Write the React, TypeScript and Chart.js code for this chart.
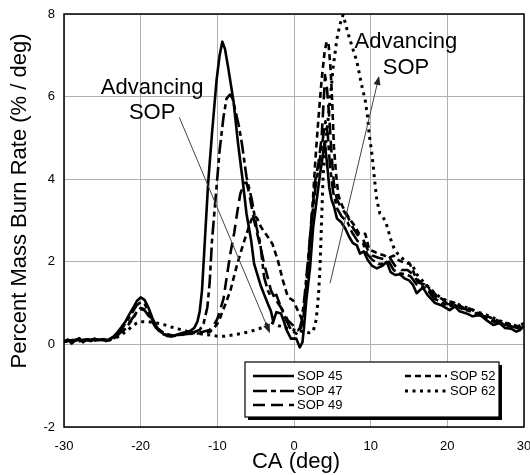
import React, { useEffect, useRef } from "react";
import { Chart, registerables } from "chart.js";

Chart.register(...registerables);

const FONT = "'Liberation Sans', Arial, Helvetica, sans-serif";

// ---- data (CA in deg, burn rate in % / deg) ----
const seriesNames = ["SOP 45", "SOP 47", "SOP 49", "SOP 52", "SOP 62"];

const sop45: [number, number][] = [
  [-30, 0.05], [-29.5, 0.12], [-29, 0.02], [-28.5, 0.1], [-28, 0.15], [-27.5, 0.05], [-27, 0.12], [-26.5, 0.08],
  [-26, 0.14], [-25.5, 0.1], [-25, 0.12], [-24.5, 0.08], [-24, 0.12], [-23.5, 0.2], [-23, 0.3], [-22.5, 0.42],
  [-22, 0.55], [-21.5, 0.72], [-21, 0.88], [-20.5, 1.05], [-20, 1.14], [-19.5, 1.08], [-19, 0.9], [-18.5, 0.65],
  [-18, 0.45], [-17.5, 0.32], [-17, 0.25], [-16.5, 0.2], [-16, 0.2], [-15.5, 0.22], [-15, 0.25], [-14.5, 0.28],
  [-14, 0.3], [-13.5, 0.33], [-13, 0.4], [-12.6, 0.55], [-12.3, 0.8], [-12, 1.3], [-11.6, 2.6], [-11.2, 3.9],
  [-10.7, 5.1], [-10.1, 6.4], [-9.7, 7.0], [-9.35, 7.33], [-9, 7.15], [-8.6, 6.72], [-7.9, 5.9], [-7.3, 4.87],
  [-6.7, 3.98], [-6.2, 3.17], [-5.6, 2.53], [-5.2, 1.95], [-4.3, 1.4], [-3.4, 0.98], [-3, 0.8], [-2.7, 0.55],
  [-2.3, 0.78], [-1.7, 0.75], [-1.3, 0.55], [-1, 0.36], [-0.4, 0.14], [0.3, 0.14], [0.75, -0.07], [1.1, 0.05],
  [1.3, 0.4], [1.6, 1.06], [2.1, 1.87], [2.5, 2.84], [2.95, 3.48], [3.4, 4.13], [3.7, 4.5], [4.0, 4.9],
  [4.3, 4.4], [4.6, 3.8], [4.9, 3.5], [5.2, 3.35], [5.6, 3.05], [6.2, 2.95], [6.7, 2.8], [7.2, 2.6],
  [7.7, 2.45], [8.2, 2.4], [8.6, 2.2], [9.1, 2.25], [9.6, 2.05], [10.2, 1.9], [10.8, 1.84], [11.5, 1.9],
  [12.1, 2.0], [12.6, 1.75], [13.2, 1.68], [13.8, 1.7], [14.4, 1.6], [15, 1.55], [15.5, 1.45], [16, 1.24],
  [16.8, 1.38], [17.4, 1.2], [18.4, 1.0], [19.2, 0.95], [20.3, 0.83], [21, 0.92], [21.6, 0.8], [22.5, 0.75],
  [23.3, 0.68], [24.3, 0.71], [25, 0.6], [26, 0.47], [26.8, 0.52], [27.5, 0.4], [28.3, 0.38], [29, 0.31],
  [29.5, 0.35], [30, 0.45],
];

const sop47: [number, number][] = [
  [-30, 0.08], [-29, 0.1], [-28, 0.12], [-27, 0.1], [-26, 0.13], [-25, 0.1], [-24, 0.12], [-23.5, 0.2],
  [-23, 0.28], [-22.5, 0.38], [-22, 0.5], [-21.5, 0.65], [-21, 0.8], [-20.5, 0.95], [-20, 1.02], [-19.5, 0.98],
  [-19, 0.82], [-18.5, 0.6], [-18, 0.42], [-17.5, 0.3], [-17, 0.24], [-16, 0.2], [-15, 0.23], [-14, 0.27],
  [-13, 0.3], [-12.3, 0.35], [-11.8, 0.5], [-11.3, 0.9], [-11, 1.5], [-10.7, 2.5], [-10.2, 3.6], [-9.7, 4.7],
  [-9.2, 5.5], [-8.8, 5.95], [-8.35, 6.05], [-8, 5.95], [-7.7, 5.7], [-7.2, 5.3], [-6.8, 4.87], [-6.2, 4.06],
  [-5.5, 3.5], [-4.9, 2.85], [-4.4, 2.45], [-3.9, 1.63], [-3.4, 1.3], [-3, 1.15], [-2.3, 1.2], [-1.7, 0.9],
  [-1, 0.58], [-0.35, 0.34], [0.3, 0.26], [0.7, 0.35], [1, 0.58], [1.4, 1.2], [1.8, 2.0], [2.3, 3.0],
  [2.8, 3.8], [3.3, 4.4], [3.7, 4.9], [4.1, 5.4], [4.4, 5.1], [4.7, 4.3], [5.1, 3.7], [5.6, 3.3],
  [6.2, 3.1], [7, 2.95], [7.6, 2.7], [8.3, 2.5], [9, 2.45], [9.5, 2.2], [10.2, 2.05], [11, 1.95],
  [11.8, 1.95], [12.4, 2.0], [13, 1.8], [13.8, 1.72], [14.5, 1.7], [15.2, 1.65], [16, 1.45], [16.8, 1.4],
  [17.5, 1.3], [18.3, 1.1], [19, 1.05], [20, 0.92], [21, 0.95], [22, 0.85], [23, 0.8], [24, 0.72],
  [25, 0.65], [26, 0.55], [27, 0.5], [28, 0.45], [29, 0.38], [30, 0.45],
];

const sop49: [number, number][] = [
  [-30, 0.06], [-29, 0.1], [-28, 0.08], [-27, 0.12], [-26, 0.1], [-25, 0.12], [-24, 0.1], [-23, 0.22],
  [-22, 0.4], [-21, 0.65], [-20.5, 0.78], [-20, 0.85], [-19.5, 0.83], [-19, 0.7], [-18.5, 0.55], [-18, 0.4],
  [-17, 0.25], [-16, 0.2], [-15, 0.22], [-14, 0.25], [-13, 0.28], [-12, 0.3], [-11, 0.35], [-10.5, 0.45],
  [-10, 0.62], [-9.6, 0.85], [-9.2, 1.1], [-8.8, 1.6], [-8.3, 2.2], [-7.8, 2.7], [-7.4, 3.2], [-7, 3.65],
  [-6.5, 3.9], [-6.2, 3.92], [-5.9, 3.7], [-5.6, 3.4], [-5.2, 3.0], [-4.8, 2.68], [-4.3, 2.3], [-3.9, 1.95],
  [-3.4, 1.6], [-3, 1.3], [-2.3, 1.06], [-1.45, 0.82], [-0.8, 0.58], [0.1, 0.42], [0.5, 0.34], [0.9, 0.4],
  [1.2, 0.6], [1.5, 1.2], [1.9, 2.1], [2.3, 3.1], [2.8, 4.0], [3.2, 4.4], [3.6, 5.0], [3.9, 6.0],
  [4.05, 6.52], [4.3, 6.2], [4.6, 5.5], [4.9, 4.6], [5.2, 3.9], [5.6, 3.5], [6.2, 3.3], [7, 3.1],
  [7.6, 2.85], [8.3, 2.65], [9, 2.55], [9.6, 2.3], [10.2, 2.15], [11, 2.1], [12, 2.05], [12.5, 2.1],
  [13.2, 1.9], [14, 1.8], [14.8, 1.8], [15.5, 1.7], [16.2, 1.5], [17, 1.45], [17.8, 1.3], [18.5, 1.15],
  [19.3, 1.1], [20, 0.98], [21, 0.97], [22, 0.87], [23, 0.82], [24, 0.74], [25, 0.67], [26, 0.58],
  [27, 0.52], [28, 0.46], [29, 0.4], [30, 0.48],
];

const sop52: [number, number][] = [
  [-30, 0.07], [-29, 0.1], [-28, 0.1], [-27, 0.12], [-26, 0.1], [-25, 0.12], [-24, 0.1], [-23, 0.2],
  [-22, 0.38], [-21, 0.62], [-20.5, 0.8], [-20, 0.88], [-19.5, 0.85], [-19, 0.72], [-18.5, 0.56], [-18, 0.42],
  [-17, 0.28], [-16, 0.22], [-15, 0.23], [-14, 0.25], [-13, 0.26], [-12, 0.27], [-11, 0.3], [-10.5, 0.38],
  [-10, 0.5], [-9.6, 0.66], [-9, 0.95], [-8.3, 1.3], [-7.4, 1.95], [-6.5, 2.5], [-5.6, 3.0], [-5.2, 3.12],
  [-4.8, 3.05], [-4.3, 2.84], [-3.4, 2.6], [-2.8, 2.43], [-2.1, 2.03], [-1.45, 1.55], [-0.8, 1.15], [-0.1, 1.06],
  [0.5, 0.82], [1.1, 0.58], [1.4, 0.8], [1.7, 1.4], [2.0, 2.2], [2.4, 3.3], [2.8, 4.5], [3.2, 5.5],
  [3.6, 6.4], [4.0, 7.1], [4.26, 7.33], [4.5, 7.3], [4.8, 6.6], [5.0, 5.8], [5.2, 4.8], [5.5, 4.1],
  [5.8, 3.6], [6.3, 3.35], [7.1, 3.08], [7.8, 2.9], [8.5, 2.68], [9.3, 2.68], [9.8, 2.3], [10.4, 2.25],
  [11.1, 2.19], [11.8, 2.15], [12.4, 2.1], [13, 2.15], [13.7, 2.03], [14.4, 1.98], [15.1, 1.95], [15.5, 1.8],
  [15.9, 1.6], [16.6, 1.5], [17.3, 1.42], [18, 1.3], [18.6, 1.18], [19.3, 1.1], [20, 1.05], [21, 1.0],
  [22, 0.9], [23, 0.86], [24, 0.76], [25, 0.7], [26, 0.62], [27, 0.55], [28, 0.5], [29, 0.43], [30, 0.5],
];

const sop62: [number, number][] = [
  [-30, 0.08], [-29, 0.1], [-28, 0.08], [-27, 0.1], [-26, 0.1], [-25, 0.12], [-24, 0.13], [-23, 0.18],
  [-22, 0.3], [-21, 0.45], [-20.5, 0.52], [-20, 0.55], [-19, 0.55], [-18, 0.52], [-17, 0.48], [-16, 0.42],
  [-15, 0.37], [-14, 0.32], [-13, 0.28], [-12, 0.25], [-11, 0.23], [-10, 0.2], [-9, 0.2], [-8, 0.23],
  [-7, 0.26], [-6, 0.3], [-5, 0.35], [-4, 0.42], [-3.2, 0.55], [-2.6, 0.5], [-2, 0.45], [-1, 0.4],
  [0, 0.35], [1, 0.32], [2, 0.28], [2.5, 0.32], [2.9, 0.6], [3.2, 1.2], [3.4, 1.9], [3.6, 3.0],
  [3.8, 4.1], [4.2, 5.0], [4.7, 5.9], [5.1, 6.7], [5.6, 7.4], [6.0, 7.75], [6.4, 7.98], [7.1, 7.5],
  [7.6, 7.2], [8.2, 6.85], [8.8, 6.3], [9.3, 5.9], [9.6, 5.5], [9.8, 5.1], [10.1, 4.7], [10.35, 4.3],
  [10.5, 4.0], [10.8, 3.5], [11.2, 3.17], [11.9, 3.0], [12.3, 2.77], [12.5, 2.6], [13, 2.35], [13.5, 2.2],
  [14, 2.1], [14.7, 2.0], [15.5, 1.9], [16, 1.7], [16.7, 1.55], [17.5, 1.4], [18.3, 1.25], [19, 1.15],
  [20, 1.05], [21, 1.0], [22, 0.92], [23, 0.86], [24, 0.78], [25, 0.72], [26, 0.64], [27, 0.56],
  [28, 0.5], [29, 0.45], [30, 0.5],
];

const seriesData = [sop45, sop47, sop49, sop52, sop62];

// axis settings
const xRange = [-30, 30];
const yRange = [-2, 8];
const xStep = 10;
const yStep = 2;
const xTitle = "CA (deg)";
const yTitle = "Percent Mass Burn Rate (% / deg)";

// annotations: label lines with their centre (data coords), arrows from -> to (data coords)
const annotationLabels: { text: string; x: number; y: number }[] = [
  { text: "Advancing", x: -18.5, y: 6.21 },
  { text: "SOP", x: -18.5, y: 5.6 },
  { text: "Advancing", x: 14.6, y: 7.33 },
  { text: "SOP", x: 14.6, y: 6.7 },
];
const annotationArrows: { from: [number, number]; to: [number, number] }[] = [
  { from: [-14.96, 5.5], to: [-3.13, 0.27] },
  { from: [4.7, 1.48], to: [11.1, 6.5] },
];

// styles per series
const dashes: number[][] = [[], [14, 4, 5, 4], [12, 6], [6, 4], [3, 4.5]];
const widths = [2.6, 2.6, 2.6, 2.6, 3];

const overlayPlugin = {
  id: "overlay",
  afterDraw(chart: any) {
    const { ctx, chartArea, scales } = chart;
    const xs = scales.x;
    const ys = scales.y;
    ctx.save();

    // plot border
    ctx.strokeStyle = "#000";
    ctx.lineWidth = 1.5;
    ctx.setLineDash([]);
    ctx.strokeRect(chartArea.left, chartArea.top, chartArea.right - chartArea.left, chartArea.bottom - chartArea.top);

    // arrows
    ctx.strokeStyle = "#444";
    ctx.fillStyle = "#222";
    ctx.lineWidth = 1;
    for (const a of annotationArrows) {
      const x1 = xs.getPixelForValue(a.from[0]);
      const y1 = ys.getPixelForValue(a.from[1]);
      const x2 = xs.getPixelForValue(a.to[0]);
      const y2 = ys.getPixelForValue(a.to[1]);
      const ang = Math.atan2(y2 - y1, x2 - x1);
      const L = 9, W = 3.5;
      ctx.beginPath();
      ctx.moveTo(x1, y1);
      ctx.lineTo(x2 - Math.cos(ang) * L * 0.7, y2 - Math.sin(ang) * L * 0.7);
      ctx.stroke();
      ctx.beginPath();
      ctx.moveTo(x2, y2);
      ctx.lineTo(x2 - Math.cos(ang) * L - Math.sin(ang) * W, y2 - Math.sin(ang) * L + Math.cos(ang) * W);
      ctx.lineTo(x2 - Math.cos(ang) * L + Math.sin(ang) * W, y2 - Math.sin(ang) * L - Math.cos(ang) * W);
      ctx.closePath();
      ctx.fill();
    }

    // annotation text
    ctx.fillStyle = "#000";
    ctx.font = `22px ${FONT}`;
    ctx.textAlign = "center";
    ctx.textBaseline = "middle";
    for (const l of annotationLabels) {
      ctx.fillText(l.text, xs.getPixelForValue(l.x), ys.getPixelForValue(l.y));
    }

    // legend box
    const bx = 245, by = 362, bw = 254, bh = 55;
    ctx.fillStyle = "#000";
    ctx.fillRect(bx + 3, by + 3, bw, bh);
    ctx.fillStyle = "#fff";
    ctx.fillRect(bx, by, bw, bh);
    ctx.strokeStyle = "#000";
    ctx.lineWidth = 1.2;
    ctx.strokeRect(bx, by, bw, bh);

    const rows = [376, 391, 405];
    const cols = [
      { x1: 253, x2: 294, tx: 297 },
      { x1: 405, x2: 447, tx: 450 },
    ];
    ctx.font = `13px ${FONT}`;
    ctx.textAlign = "left";
    ctx.textBaseline = "middle";
    seriesNames.forEach((name, i) => {
      const c = cols[i < 3 ? 0 : 1];
      const r = rows[i < 3 ? i : i - 3];
      ctx.strokeStyle = "#000";
      ctx.lineWidth = widths[i];
      ctx.setLineDash(dashes[i]);
      ctx.beginPath();
      ctx.moveTo(c.x1, r);
      ctx.lineTo(c.x2, r);
      ctx.stroke();
      ctx.setLineDash([]);
      ctx.fillStyle = "#000";
      ctx.fillText(name, c.tx, r + 0.5);
    });

    // axis titles
    ctx.font = `22px ${FONT}`;
    ctx.textAlign = "center";
    ctx.textBaseline = "middle";
    ctx.fillText(xTitle, (chartArea.left + chartArea.right) / 2 + 2, 462);
    ctx.translate(20, 201);
    ctx.rotate(-Math.PI / 2);
    ctx.fillText(yTitle, 0, 0);
    ctx.restore();
  },
};

export default function App() {
  const ref = useRef<HTMLCanvasElement | null>(null);

  useEffect(() => {
    if (!ref.current) return;
    const chart = new Chart(ref.current, {
      type: "line",
      data: {
        datasets: seriesData.map((d, i) => ({
          label: seriesNames[i],
          data: d.map(([x, y]) => ({ x, y })),
          borderColor: "#000",
          backgroundColor: "#000",
          borderWidth: widths[i],
          borderDash: dashes[i],
          borderCapStyle: "butt",
          borderJoinStyle: "round",
          pointRadius: 0,
          tension: 0,
          fill: false,
        })),
      },
      options: {
        animation: false,
        responsive: true,
        maintainAspectRatio: false,
        layout: { padding: { left: 0, top: 14, right: 6, bottom: 0 } },
        plugins: {
          legend: { display: false },
          tooltip: { enabled: false },
          title: { display: false },
        },
        scales: {
          x: {
            type: "linear",
            min: xRange[0],
            max: xRange[1],
            ticks: {
              stepSize: xStep,
              color: "#000",
              font: { family: FONT, size: 13 },
              padding: 12,
              maxRotation: 0,
            },
            grid: { color: "#b0b0b0", lineWidth: 1, drawTicks: false },
            border: { display: false },
            afterFit: (s: any) => {
              s.height = 48;
              s.paddingLeft = 0;
              s.paddingRight = 0;
            },
          },
          y: {
            type: "linear",
            min: yRange[0],
            max: yRange[1],
            ticks: {
              stepSize: yStep,
              color: "#000",
              font: { family: FONT, size: 13 },
              padding: 9,
            },
            grid: { color: "#b0b0b0", lineWidth: 1, drawTicks: false },
            border: { display: false },
            afterFit: (s: any) => {
              s.width = 64;
              s.paddingTop = 0;
              s.paddingBottom = 0;
            },
          },
        },
      },
      plugins: [overlayPlugin],
    } as any);
    return () => chart.destroy();
  }, []);

  return (
    <div style={{ position: "absolute", left: 0, top: 0, width: 530, height: 475, background: "#fff" }}>
      <canvas ref={ref} />
    </div>
  );
}
